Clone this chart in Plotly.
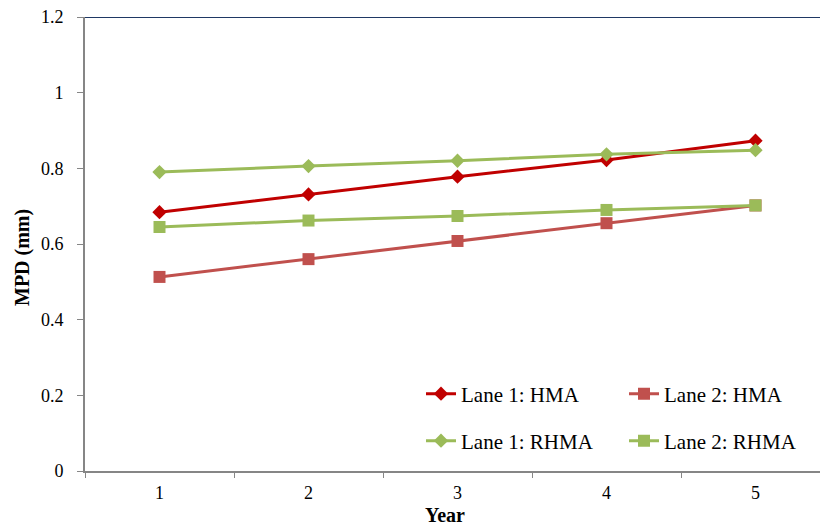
import plotly.graph_objects as go

years = [1, 2, 3, 4, 5]
lane1_hma = [0.684, 0.731, 0.778, 0.822, 0.873]
lane2_hma = [0.513, 0.560, 0.608, 0.655, 0.702]
lane1_rhma = [0.790, 0.806, 0.820, 0.837, 0.848]
lane2_rhma = [0.645, 0.662, 0.674, 0.690, 0.702]
y_ticks = [0, 0.2, 0.4, 0.6, 0.8, 1.0, 1.2]
y_tick_text = ["0", "0.2", "0.4", "0.6", "0.8", "1", "1.2"]

FONT = "Liberation Serif"
fig = go.Figure()

def add(name, ys, color, symbol, size, legend):
    fig.add_trace(go.Scatter(
        x=years, y=ys, name=name, mode="lines+markers",
        line=dict(color=color, width=3),
        marker=dict(symbol=symbol, size=size, color=color),
        legend=legend,
    ))

add("Lane 1: HMA", lane1_hma, "#C00000", "diamond", 11, "legend")
add("Lane 2: HMA", lane2_hma, "#C0504D", "square", 12, "legend2")
add("Lane 1: RHMA", lane1_rhma, "#9BBB59", "diamond", 11, "legend3")
add("Lane 2: RHMA", lane2_rhma, "#9BBB59", "square", 12, "legend4")

W, H = 820, 526
L, T, B, R = 85, 17, 55, 0
pw = W - L - R
ph = H - T - B

def px2x(px):
    return (px - L) / pw

def py2y(py):
    return (H - B - py) / ph

leg_common = dict(
    orientation="h", xref="paper", yref="paper", xanchor="left", yanchor="middle",
    font=dict(family=FONT, size=21, color="black"),
    bgcolor="rgba(0,0,0,0)", itemwidth=30,
)

fig.update_layout(
    width=W, height=H,
    margin=dict(l=L, r=R, t=T, b=B, autoexpand=False),
    paper_bgcolor="white", plot_bgcolor="white",
    font=dict(family=FONT, size=18, color="black"),
    showlegend=True,
    legend=dict(x=px2x(421), y=py2y(394), **leg_common),
    legend2=dict(x=px2x(624), y=py2y(394), **leg_common),
    legend3=dict(x=px2x(421), y=py2y(441), **leg_common),
    legend4=dict(x=px2x(624), y=py2y(441), **leg_common),
    xaxis=dict(
        range=[0.5, 0.5 + pw / 149.0],
        tickvals=years, ticktext=[str(v) for v in years],
        ticks="", showgrid=False, zeroline=False,
        showline=True, linecolor="#868686", linewidth=2,
        tickfont=dict(family=FONT, size=18, color="black"),
        ticklabelstandoff=4,
        minor=dict(tickvals=[0.5, 1.5, 2.5, 3.5, 4.5, 5.5], ticks="outside",
                   ticklen=5, tickcolor="#868686", tickwidth=1, showgrid=False),
        fixedrange=True,
    ),
    yaxis=dict(
        range=[0, 1.2],
        tickvals=y_ticks, ticktext=y_tick_text,
        ticks="outside", ticklen=6, tickcolor="#868686", tickwidth=1,
        showgrid=False, zeroline=False,
        showline=True, linecolor="#868686", linewidth=2,
        tickfont=dict(family=FONT, size=18, color="black"),
        ticklabelstandoff=10,
        fixedrange=True,
    ),
    shapes=[dict(type="line", xref="paper", yref="y", x0=0, x1=1, y0=1.2, y1=1.2,
                 line=dict(color="#1F3864", width=2))],
    annotations=[
        dict(text="<b>Year</b>", xref="paper", yref="paper", x=px2x(445), y=py2y(515),
             showarrow=False, xanchor="center", yanchor="middle",
             font=dict(family=FONT, size=20, color="black")),
        dict(text="<b>MPD (mm)</b>", xref="paper", yref="paper", x=px2x(22), y=py2y(258),
             showarrow=False, xanchor="center", yanchor="middle", textangle=-90,
             font=dict(family=FONT, size=20, color="black")),
    ],
)

fig.write_html("out.html")
